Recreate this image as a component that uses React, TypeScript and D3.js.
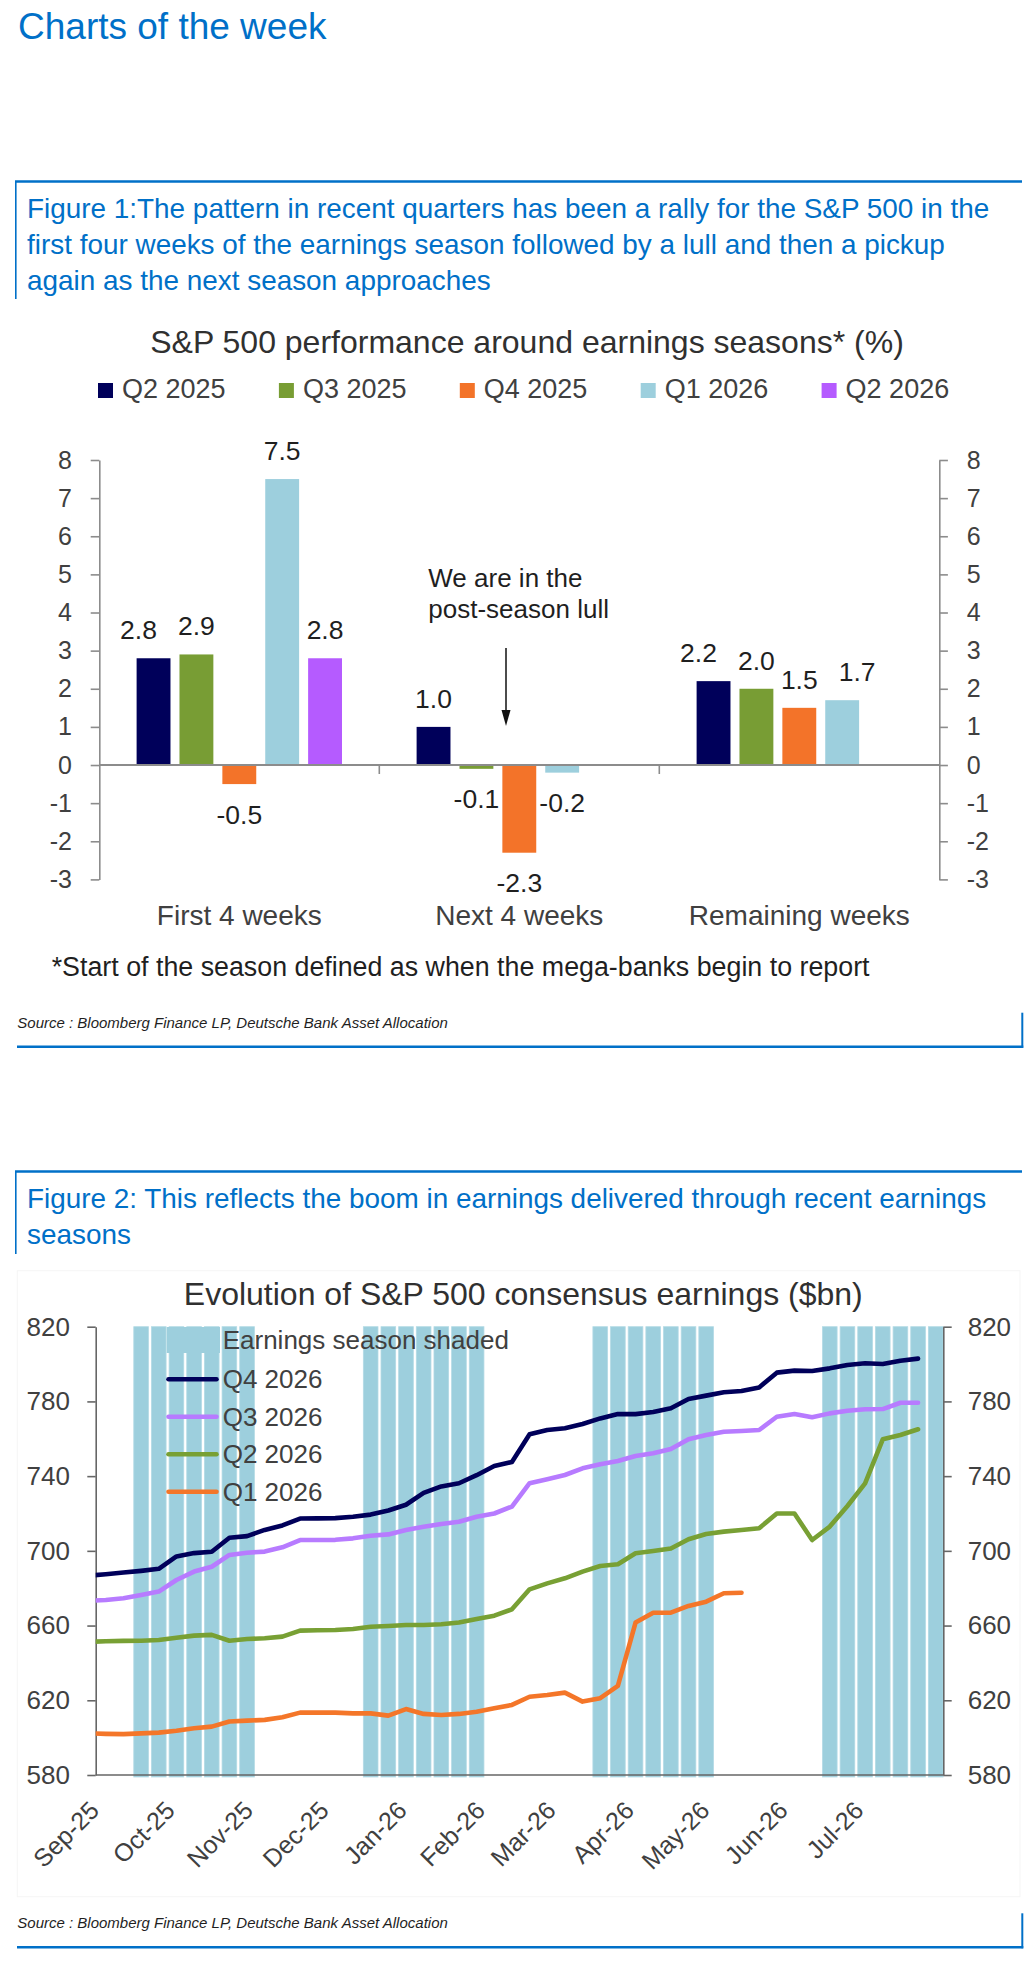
import React, { useEffect, useRef } from "react";
import * as d3 from "d3";

const FONT = '"Liberation Sans", Arial, Helvetica, sans-serif';
const BLUE = "#0070C8";
const TEXT_DARK = "#1f1f1f";
const TEXT_GREY = "#404040";

// ---- Figure 1 : performance around earnings seasons (%)
const perfCategories = ["First 4 weeks", "Next 4 weeks", "Remaining weeks"];
const perfSeries = ["Q2 2025", "Q3 2025", "Q4 2025", "Q1 2026", "Q2 2026"];
const perfColors = ["#00005A", "#789D34", "#F37329", "#9DCFDD", "#B55BFF"];
const perfQ2_2025 = [2.8, 1.0, 2.2];
const perfQ3_2025 = [2.9, -0.1, 2.0];
const perfQ4_2025 = [-0.5, -2.3, 1.5];
const perfQ1_2026 = [7.5, -0.2, 1.7];
const perfQ2_2026 = [2.8, null, null];
const perfTicks = [-3, -2, -1, 0, 1, 2, 3, 4, 5, 6, 7, 8];

// ---- Figure 2 : consensus earnings ($bn), weekly (Fridays)
const firstWeek = "2025-08-29";
const seasonStarts = ["2025-09-19", "2025-12-19", "2026-03-20", "2026-06-19"];
const seasonWeeks = 7;
const monthTicks = [
  "2025-09-01", "2025-10-01", "2025-11-01", "2025-12-01", "2026-01-01", "2026-02-01",
  "2026-03-01", "2026-04-01", "2026-05-01", "2026-06-01", "2026-07-01",
];
const earnTicks = [580, 620, 660, 700, 740, 780, 820];

const q4_2026 = [
  686.7, 687.5, 688.4, 689.3, 690.4, 697.0, 698.8, 699.5, 707.0, 707.9, 711.2, 713.6,
  717.3, 717.4, 717.5, 718.3, 719.4, 721.6, 724.7, 731.0, 734.5, 736.2, 740.5, 745.4,
  747.6, 762.4, 764.7, 765.6, 767.9, 770.9, 773.3, 773.2, 774.3, 776.3, 781.3, 783.1,
  784.9, 785.6, 787.5, 795.4, 796.5, 796.3, 797.7, 799.5, 800.4, 800.0, 801.8, 802.9,
];
const q3_2026 = [
  673.2, 673.7, 674.6, 676.4, 678.2, 684.4, 688.9, 691.5, 697.8, 699.0, 699.6, 701.9,
  705.8, 705.8, 705.9, 706.7, 708.1, 708.8, 711.2, 712.9, 714.4, 715.6, 718.3, 720.0,
  723.7, 736.2, 738.3, 740.6, 744.2, 746.3, 748.1, 750.8, 752.2, 754.5, 759.7, 762.0,
  763.8, 764.2, 764.7, 771.8, 773.3, 771.5, 773.6, 775.0, 775.8, 775.9, 779.3, 779.3,
];
const q2_2026 = [
  651.3, 651.6, 651.8, 651.9, 652.3, 653.5, 654.6, 655.0, 651.9, 652.8, 653.2, 654.1,
  657.3, 657.5, 657.6, 658.2, 659.4, 659.8, 660.3, 660.3, 660.7, 661.6, 663.5, 665.3,
  668.7, 679.4, 682.6, 685.3, 688.9, 691.9, 692.8, 698.7, 699.9, 701.3, 706.2, 709.0,
  710.3, 711.2, 712.1, 720.0, 720.0, 705.8, 713.0, 724.0, 736.1, 759.7, 762.0, 765.1,
];
const q1_2026 = [
  602.3, 602.0, 601.9, 602.3, 602.7, 603.7, 605.0, 605.9, 608.6, 609.1, 609.5, 610.9,
  613.4, 613.4, 613.4, 613.0, 613.0, 611.8, 615.3, 612.7, 612.1, 612.7, 613.9, 615.7,
  617.5, 621.9, 622.8, 624.1, 619.3, 621.1, 627.7, 661.6, 666.9, 666.9, 670.5, 672.8,
  677.3, 677.6,
];
const earnSeries = [
  { name: "Q4 2026", values: q4_2026, color: "#00005A" },
  { name: "Q3 2026", values: q3_2026, color: "#B77BFF" },
  { name: "Q2 2026", values: q2_2026, color: "#78A034" },
  { name: "Q1 2026", values: q1_2026, color: "#F47629" },
];

const parseDay = d3.timeParse("%Y-%m-%d");

const App: React.FC = () => {
  const svgRef = useRef<SVGSVGElement | null>(null);

  useEffect(() => {
    document.body.style.margin = "0";
    if (!svgRef.current) return;
    const svg = d3.select(svgRef.current);
    svg.selectAll("*").remove();
    svg.style("font-family", FONT);

    // page heading
    svg.append("text")
      .attr("x", 18).attr("y", 39)
      .style("font-size", "37px").style("fill", BLUE)
      .text("Charts of the week");

    // blue frame of a figure: top rule + short left rule, bottom rule + short right rule
    const frame = (top: number, leftEnd: number, bottom: number) => {
      svg.append("line").attr("x1", 15).attr("x2", 1022).attr("y1", top).attr("y2", top)
        .attr("stroke", BLUE).attr("stroke-width", 2.5);
      svg.append("line").attr("x1", 15.8).attr("x2", 15.8).attr("y1", top).attr("y2", leftEnd)
        .attr("stroke", BLUE).attr("stroke-width", 1.6);
      svg.append("line").attr("x1", 17).attr("x2", 1023.3).attr("y1", bottom).attr("y2", bottom)
        .attr("stroke", BLUE).attr("stroke-width", 2.5);
      svg.append("line").attr("x1", 1022.3).attr("x2", 1022.3).attr("y1", bottom - 34).attr("y2", bottom + 1)
        .attr("stroke", BLUE).attr("stroke-width", 2);
    };
    const caption = (lines: string[], firstBaseline: number) => {
      lines.forEach((l, i) => {
        svg.append("text")
          .attr("x", 27).attr("y", firstBaseline + i * 36)
          .style("font-size", "27.9px").style("fill", BLUE)
          .text(l);
      });
    };
    const source = (baseline: number) => {
      svg.append("text")
        .attr("x", 17.3).attr("y", baseline)
        .style("font-size", "15px").style("font-style", "italic").style("fill", TEXT_DARK)
        .text("Source : Bloomberg Finance LP, Deutsche Bank Asset Allocation");
    };

    // ================= Figure 1 =================
    frame(181.5, 299, 1046.7);
    caption([
      "Figure 1:The pattern in recent quarters has been a rally for the S&P 500 in the",
      "first four weeks of the earnings season followed by a lull and then a pickup",
      "again as the next season approaches",
    ], 218);

    svg.append("text")
      .attr("x", 527).attr("y", 353).attr("text-anchor", "middle")
      .style("font-size", "32px").style("fill", "#303030")
      .text("S&P 500 performance around earnings seasons* (%)");

    // legend
    const legend1 = svg.append("g");
    perfSeries.forEach((s, i) => {
      const lx = 98 + i * 180.9;
      legend1.append("rect").attr("x", lx).attr("y", 383).attr("width", 15).attr("height", 15)
        .attr("fill", perfColors[i]);
      legend1.append("text").attr("x", lx + 24).attr("y", 398.3)
        .style("font-size", "27px").style("fill", TEXT_GREY).text(s);
    });

    const perfValues = [perfQ2_2025, perfQ3_2025, perfQ4_2025, perfQ1_2026, perfQ2_2026];
    const x0 = d3.scaleBand<string>().domain(perfCategories).range([99.3, 939.3]);
    const x1 = d3.scaleBand<string>().domain(perfSeries).range([0, x0.bandwidth()])
      .paddingInner(0.21).paddingOuter(0.87);
    const y1 = d3.scaleLinear().domain([-3, 8]).range([879.4, 460]);
    const axisGrey = "#8C8C8C";

    const styleAxis = (g: d3.Selection<SVGGElement, unknown, null, undefined>, size: number, col: string) => {
      g.select(".domain").attr("stroke", col).attr("stroke-width", 1.6);
      g.selectAll(".tick line").attr("stroke", col).attr("stroke-width", 1.6);
      g.selectAll(".tick text").style("font-size", `${size}px`).style("fill", TEXT_GREY)
        .style("font-family", FONT);
    };

    const left1 = svg.append("g").attr("transform", "translate(99.3,0)")
      .call(d3.axisLeft(y1).tickValues(perfTicks).tickFormat((d) => String(d))
        .tickSize(8.6).tickSizeOuter(0).tickPadding(18.7));
    styleAxis(left1, 25, axisGrey);
    const right1 = svg.append("g").attr("transform", "translate(939.3,0)")
      .call(d3.axisRight(y1).tickValues(perfTicks).tickFormat((d) => String(d))
        .tickSize(8.6).tickSizeOuter(0).tickPadding(18.8));
    styleAxis(right1, 25, axisGrey);

    // bars
    const bars = svg.append("g");
    perfCategories.forEach((c, j) => {
      // label positions for this group, nudged sideways when neighbours collide
      const labels: { x: number; y: number; v: number }[] = [];
      perfSeries.forEach((s, i) => {
        const v = perfValues[i][j];
        if (v === null || v === undefined) return;
        const bx = (x0(c) ?? 0) + (x1(s) ?? 0);
        const top = Math.min(y1(v), y1(0));
        bars.append("rect")
          .attr("x", bx).attr("y", top)
          .attr("width", x1.bandwidth()).attr("height", Math.abs(y1(v) - y1(0)))
          .attr("fill", perfColors[i]);
        labels.push({ x: bx + x1.bandwidth() / 2, y: v >= 0 ? y1(v) - 19 : y1(v) + 39.5, v });
      });
      for (let k = 0; k < labels.length - 1; k++) {
        const a = labels[k], b = labels[k + 1];
        if (Math.abs(a.y - b.y) < 15 && b.x - a.x < 48) {
          if (k === 0) a.x -= 15;
          else b.x += 15;
        }
      }
      labels.forEach((l) => {
        bars.append("text")
          .attr("x", l.x).attr("y", l.y)
          .attr("text-anchor", "middle")
          .style("font-size", "26.5px").style("fill", TEXT_DARK)
          .text(l.v.toFixed(1));
      });
    });

    // zero line with category separators
    svg.append("line").attr("x1", 99.3).attr("x2", 939.3).attr("y1", y1(0)).attr("y2", y1(0))
      .attr("stroke", axisGrey).attr("stroke-width", 2);
    perfCategories.slice(1).forEach((c) => {
      const sx = x0(c) ?? 0;
      svg.append("line").attr("x1", sx).attr("x2", sx).attr("y1", y1(0)).attr("y2", y1(0) + 9)
        .attr("stroke", axisGrey).attr("stroke-width", 1.6);
    });

    perfCategories.forEach((c) => {
      svg.append("text")
        .attr("x", (x0(c) ?? 0) + x0.bandwidth() / 2).attr("y", 925)
        .attr("text-anchor", "middle")
        .style("font-size", "28px").style("fill", TEXT_GREY).text(c);
    });

    // annotation
    svg.append("text").attr("x", 428.3).attr("y", 586.7)
      .style("font-size", "26px").style("fill", TEXT_DARK).text("We are in the");
    svg.append("text").attr("x", 428.3).attr("y", 618.3)
      .style("font-size", "26px").style("fill", TEXT_DARK).text("post-season lull");
    svg.append("line").attr("x1", 506).attr("x2", 506).attr("y1", 648).attr("y2", 712)
      .attr("stroke", "#111").attr("stroke-width", 1.5);
    svg.append("path").attr("d", "M501.5,710 L510.5,710 L506,726 Z").attr("fill", "#111");

    svg.append("text").attr("x", 51.7).attr("y", 976)
      .style("font-size", "26.8px").style("fill", TEXT_DARK)
      .text("*Start of the season defined as when the mega-banks begin to report");
    source(1028.3);

    // ================= Figure 2 =================
    frame(1171.5, 1254, 1947.3);
    caption([
      "Figure 2: This reflects the boom in earnings delivered through recent earnings",
      "seasons",
    ], 1208.3);

    svg.append("rect").attr("x", 17.3).attr("y", 1270.7).attr("width", 1002.7).attr("height", 626)
      .attr("fill", "none").attr("stroke", "#F5F5F5").attr("stroke-width", 1);

    svg.append("text")
      .attr("x", 523.3).attr("y", 1305).attr("text-anchor", "middle")
      .style("font-size", "32px").style("fill", "#303030")
      .text("Evolution of S&P 500 consensus earnings ($bn)");

    const start = parseDay(firstWeek) as Date;
    const xT = d3.scaleTime()
      .domain([parseDay("2025-09-01") as Date, parseDay("2026-08-03") as Date])
      .range([95.7, 943.3]);
    const y2 = d3.scaleLinear().domain([580, 820]).range([1775, 1326.7]);
    const weekDate = (k: number) => d3.timeDay.offset(start, 7 * k);

    // shaded earnings-season weeks
    const shade = "#9DCFDD";
    const shadeG = svg.append("g");
    seasonStarts.forEach((s) => {
      const s0 = parseDay(s) as Date;
      d3.range(seasonWeeks).forEach((w) => {
        const d = d3.timeDay.offset(s0, 7 * w);
        const step = xT(d3.timeDay.offset(d, 7)) - xT(d);
        const bw = step * 0.83;
        shadeG.append("rect")
          .attr("x", xT(d) - bw / 2).attr("y", y2(820))
          .attr("width", bw).attr("height", y2(580) - y2(820) + 2)
          .attr("fill", shade).attr("stroke", "#B3DAE5").attr("stroke-width", 0.8);
      });
    });

    const axisDark = "#666666";
    const left2 = svg.append("g").attr("transform", "translate(95.7,0)")
      .call(d3.axisLeft(y2).tickValues(earnTicks).tickFormat((d) => String(d))
        .tickSize(8.4).tickSizeOuter(0).tickPadding(17.3));
    styleAxis(left2, 26, axisDark);
    const right2 = svg.append("g").attr("transform", "translate(943.3,0)")
      .call(d3.axisRight(y2).tickValues(earnTicks).tickFormat((d) => String(d))
        .tickSize(8.4).tickSizeOuter(0).tickPadding(16));
    styleAxis(right2, 26, axisDark);

    svg.append("line").attr("x1", 95.7).attr("x2", 943.3).attr("y1", y2(580)).attr("y2", y2(580))
      .attr("stroke", axisDark).attr("stroke-width", 1.6);

    // month labels, rotated
    monthTicks.forEach((m) => {
      const d = parseDay(m) as Date;
      const tx = xT(d) + 5;
      const ty = 1812;
      svg.append("text")
        .attr("transform", `translate(${tx},${ty}) rotate(-45)`)
        .attr("text-anchor", "end")
        .style("font-size", "25px").style("fill", TEXT_GREY)
        .text(d3.timeFormat("%b-%y")(d));
    });

    // lines
    svg.append("defs").append("clipPath").attr("id", "plot2")
      .append("rect").attr("x", 95.7).attr("y", 1300).attr("width", 847.6).attr("height", 500);
    const line = d3.line<number>()
      .x((_, k) => xT(weekDate(k)))
      .y((v) => y2(v));
    const linesG = svg.append("g").attr("clip-path", "url(#plot2)");
    earnSeries.slice().reverse().forEach((s) => {
      linesG.append("path")
        .attr("d", line(s.values) ?? "")
        .attr("fill", "none").attr("stroke", s.color).attr("stroke-width", 4.6)
        .attr("stroke-linejoin", "round").attr("stroke-linecap", "round");
    });

    // legend (drawn over the shading, no background)
    const lg = svg.append("g");
    lg.append("rect").attr("x", 166.7).attr("y", 1327).attr("width", 53.3).attr("height", 26)
      .attr("fill", shade);
    lg.append("text").attr("x", 222.7).attr("y", 1349.3)
      .style("font-size", "26px").style("fill", TEXT_GREY).text("Earnings season shaded");
    earnSeries.forEach((s, i) => {
      const ry = 1379.3 + i * 37.5;
      lg.append("line").attr("x1", 168.5).attr("x2", 216.5).attr("y1", ry).attr("y2", ry)
        .attr("stroke", s.color).attr("stroke-width", 4.6).attr("stroke-linecap", "round");
      lg.append("text").attr("x", 222.7).attr("y", ry + 9)
        .style("font-size", "26px").style("fill", TEXT_GREY).text(s.name);
    });

    source(1928.3);
  }, []);

  return (
    <div style={{ position: "absolute", left: 0, top: 0 }}>
      <svg ref={svgRef} width={1031} height={1967} style={{ display: "block", background: "#fff" }} />
    </div>
  );
};

export default App;
